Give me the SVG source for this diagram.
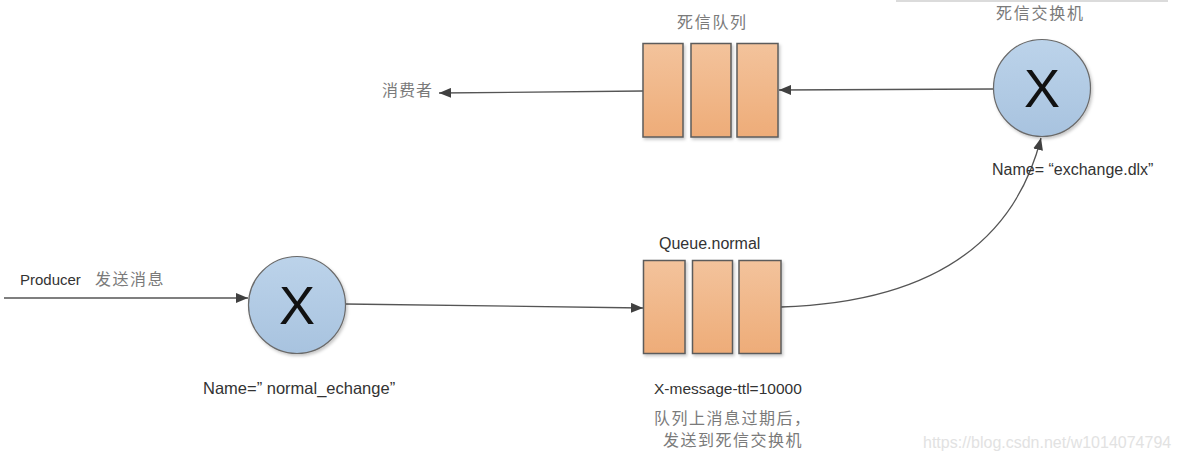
<svg xmlns="http://www.w3.org/2000/svg" width="1178" height="464" viewBox="0 0 1178 464">
<defs>
<linearGradient id="gOrange" x1="0" y1="0" x2="0" y2="1"><stop offset="0" stop-color="#f3c39c"/><stop offset="1" stop-color="#eeac78"/></linearGradient>
<linearGradient id="gBlue" x1="0" y1="0" x2="0" y2="1"><stop offset="0" stop-color="#bcd3ea"/><stop offset="1" stop-color="#a8c3df"/></linearGradient>
<filter id="sh" x="-20%" y="-20%" width="140%" height="140%"><feDropShadow dx="1.5" dy="2" stdDeviation="1.5" flood-color="#000" flood-opacity="0.22"/></filter>
<marker id="ah" viewBox="0 0 12 10" refX="12" refY="5" markerWidth="12" markerHeight="10" markerUnits="userSpaceOnUse" orient="auto"><path d="M0,0 L12,5 L0,10 Z" fill="#404040"/></marker>
</defs>
<style>
.q{fill:url(#gOrange);stroke:#5c5c5c;stroke-width:1.5;filter:url(#sh)}
.c{fill:url(#gBlue);stroke:#6a6a6a;stroke-width:1.2;filter:url(#sh)}
.x{font-family:"Liberation Sans",Arial,sans-serif;font-size:54px;fill:#111;text-anchor:middle}
.en{font-family:"Liberation Sans",Arial,sans-serif;font-size:15px;fill:#333}
.zh{font-family:"Noto Sans CJK SC",sans-serif;font-size:16px;fill:#7a7a7a;letter-spacing:1.5px}
.ln{fill:none;stroke:#555;stroke-width:1.3}
</style>
<rect width="1178" height="464" fill="#fff"/>
<line x1="896" y1="1" x2="1168" y2="1" stroke="#cfcfcf" stroke-width="1.5"/>
<g id="connectors">
<line class="ln" x1="4" y1="298" x2="248" y2="298" marker-end="url(#ah)"/>
<path class="ln" d="M345,304 L643,308" marker-end="url(#ah)"/>
<path class="ln" d="M781,307 Q1000,300 1041,138" marker-end="url(#ah)"/>
<path class="ln" d="M993,89 L779,90" marker-end="url(#ah)"/>
<path class="ln" d="M643,91 L439,93" marker-end="url(#ah)"/>
</g>
<g id="producer">
<text class="en" x="20" y="285">Producer</text>
<text class="zh" x="95" y="285">发送消息</text>
</g>
<g id="normal_exchange">
<circle class="c" cx="297" cy="305" r="48.5"/>
<text class="x" x="297" y="324">X</text>
<text class="en" x="203" y="394" style="font-size:16.5px">Name=” normal_echange”</text>
</g>
<g id="normal_queue">
<text class="en" x="659" y="249" style="font-size:16px">Queue.normal</text>
<rect class="q" x="643.5" y="260.5" width="41.5" height="93"/>
<rect class="q" x="692.5" y="260.5" width="40" height="93"/>
<rect class="q" x="739" y="260.5" width="42" height="93"/>
<text class="en" x="654" y="394" style="font-size:15.5px">X-message-ttl=10000</text>
<text class="zh" x="654" y="424">队列上消息过期后，</text>
<text class="zh" x="663" y="446">发送到死信交换机</text>
</g>
<g id="dead_exchange">
<text class="zh" x="996" y="19" style="letter-spacing:1.75px">死信交换机</text>
<circle class="c" cx="1042" cy="88" r="48.5"/>
<text class="x" x="1042" y="107">X</text>
<text class="en" x="992" y="175" style="font-size:16px">Name= “exchange.dlx”</text>
</g>
<g id="dead_queue">
<text class="zh" x="677" y="28" style="letter-spacing:1.7px">死信队列</text>
<rect class="q" x="643" y="43.5" width="40" height="93.5"/>
<rect class="q" x="691" y="43.5" width="40" height="93.5"/>
<rect class="q" x="737" y="43.5" width="41" height="93.5"/>
</g>
<g id="consumer">
<text class="zh" x="382" y="96" style="letter-spacing:1px">消费者</text>
</g>
<text x="923" y="448" style="font-family:'Liberation Sans',Arial,sans-serif;font-size:16px;fill:#e2e2e2">https://blog.csdn.net/w1014074794</text>
</svg>
